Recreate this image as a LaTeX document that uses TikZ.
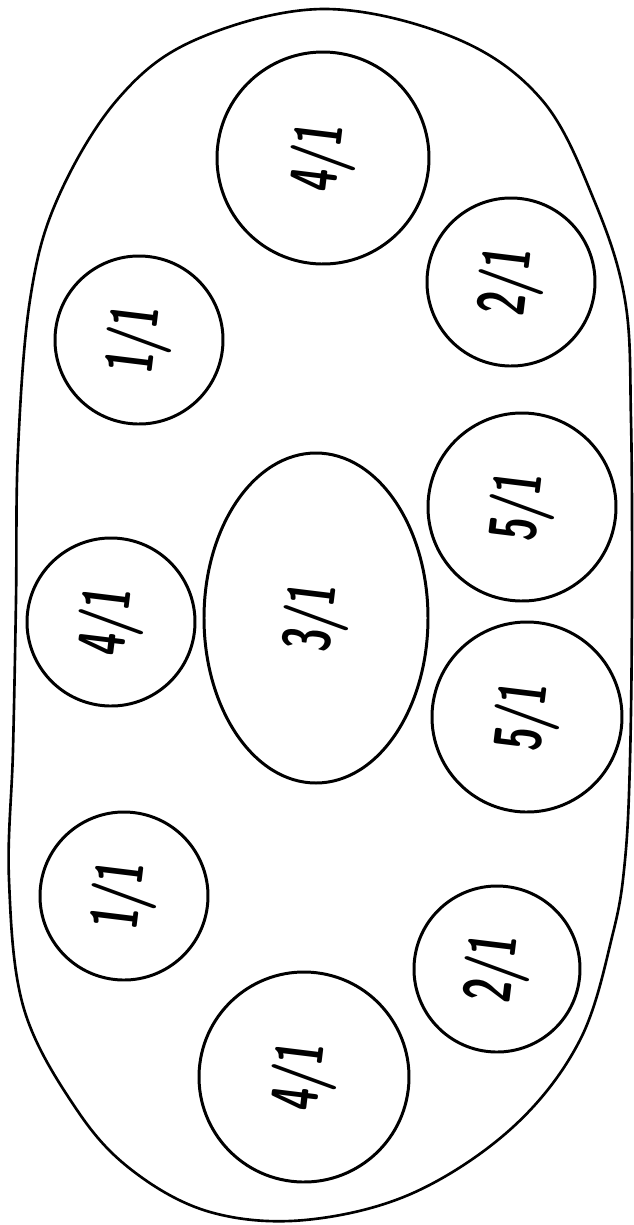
\documentclass[tikz,border=0pt]{standalone}
\usepackage{graphicx}
\usetikzlibrary{shapes.geometric}
\begin{document}
\begin{tikzpicture}
% TikZ sketch of the plate, one unit = one pixel of the drawing
\def\pxsz{0.02cm}
\providecommand{\plateLineColor}{black}
\providecommand{\plateLineWidth}{1.5pt}
\providecommand{\cupLineWidth}{1.7pt}
\providecommand{\cupLabel}[1]{\scalebox{0.62}[1]{\fontsize{38}{40}\selectfont\sffamily\bfseries #1}}
\begin{scope}[x=\pxsz, y=-\pxsz, line cap=round, line join=round,
  cup/.style={circle, draw=\plateLineColor, line width=\cupLineWidth, inner sep=0pt, minimum size=#1*\pxsz, rotate=83},
  bowl/.style={ellipse, draw=\plateLineColor, line width=\cupLineWidth, inner sep=0pt, rotate=90}]
  % Page frame
  \useasboundingbox (0,0) rectangle (634,1225);
  % Outer outline of the plate
  \draw[draw=\plateLineColor, line width=\plateLineWidth]
    plot[smooth cycle, tension=0.6] coordinates {
      (323,9) (455,38) (542,100) (594,200) (625,300) (631,420) (632,600)
      (630,760) (625,860) (613,933) (580,1040) (513,1127) (413,1193)
      (305,1220) (210,1212) (133,1171) (77,1110) (24,1009) (9,880)
      (13,750) (16,600) (18,450) (30,300) (57,200) (117,100) (195,40)};
  % Cups, top to bottom
  \node[cup=212] (cupA) at (323,158) {\cupLabel{4/1}};
  \node[cup=168] (cupB) at (511,282) {\cupLabel{2/1}};
  \node[cup=168] (cupC) at (139,340) {\cupLabel{1/1}};
  \node[cup=188] (cupF) at (522,507) {\cupLabel{5/1}};
  \node[cup=168] (cupD) at (111,622) {\cupLabel{4/1}};
  \node[bowl, minimum width=330*\pxsz, minimum height=224*\pxsz] (bowlE) at (316,618) {\rotatebox{-7}{\cupLabel{3/1}}};
  \node[cup=190] (cupG) at (527,717) {\cupLabel{5/1}};
  \node[cup=168] (cupH) at (124,896) {\cupLabel{1/1}};
  \node[cup=166] (cupI) at (497,969) {\cupLabel{2/1}};
  \node[cup=210] (cupJ) at (304,1077) {\cupLabel{4/1}};
\end{scope}
\end{tikzpicture}
\end{document}
